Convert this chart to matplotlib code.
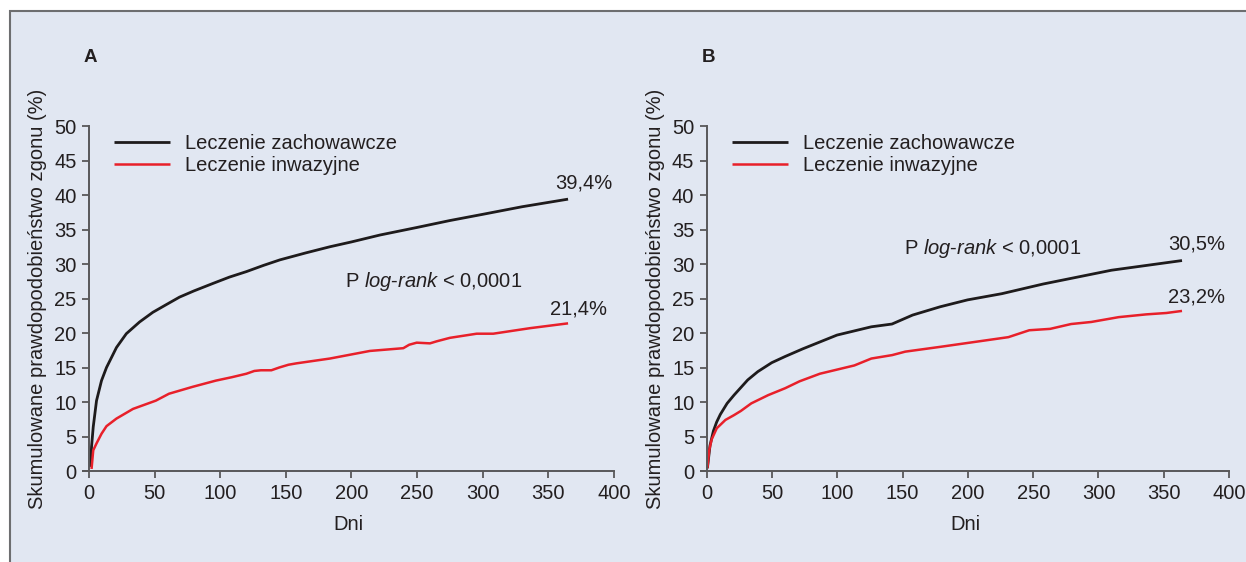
#! /usr/bin/python
# Skumulowane prawdopodobienstwo zgonu - panele A i B

import matplotlib
matplotlib.use("Agg")
import matplotlib.pyplot as plt
from matplotlib.patches import Rectangle

# Panel A
dni_a_zach = [1.3, 2, 3.3, 5.8, 9.6, 13.4, 21, 28.5, 38.6, 48.7, 58.8, 69, 80, 94.7, 107, 120, 133, 145.5,
              165, 183.6, 200, 221.7, 250, 275, 300, 330, 365]
proc_a_zach = [0.6, 3.5, 6.4, 10.2, 13.1, 15.0, 17.9, 19.9, 21.6, 23.0, 24.1, 25.2, 26.1, 27.2, 28.1, 28.9,
               29.8, 30.6, 31.6, 32.5, 33.2, 34.2, 35.3, 36.3, 37.2, 38.3, 39.4]
dni_a_inw = [2, 3.3, 5.8, 9.6, 13.4, 21, 33.6, 51, 61, 79, 96.7, 109, 120, 126, 131, 139, 145, 152, 158,
             183.6, 214, 239.5, 244, 249.7, 259.8, 265, 275, 295.4, 308, 336, 365]
proc_a_inw = [0.3, 3.0, 4.0, 5.4, 6.5, 7.6, 9.0, 10.2, 11.2, 12.2, 13.1, 13.6, 14.1, 14.5, 14.6, 14.6, 15.0,
              15.4, 15.6, 16.3, 17.4, 17.8, 18.3, 18.6, 18.5, 18.8, 19.3, 19.9, 19.9, 20.7, 21.4]

# Panel B
dni_b_zach = [0.4, 2.4, 5, 7.5, 10.3, 15.5, 20.8, 31.3, 39, 49.7, 60, 73.4, 99.7, 126, 141.8, 157.6, 178.7,
              199.7, 226, 257.6, 310, 364]
proc_b_zach = [0.4, 3.7, 5.8, 7.1, 8.2, 9.8, 11.0, 13.2, 14.4, 15.7, 16.6, 17.7, 19.7, 20.9, 21.3, 22.6, 23.8,
               24.8, 25.7, 27.1, 29.1, 30.5]
dni_b_inw = [0.4, 1.8, 3.7, 7.6, 14.2, 20.8, 26, 34, 47, 60, 71, 86.6, 113, 126, 142, 152, 179, 205, 231,
             247, 263, 279, 294.5, 315.5, 336.6, 352, 364]
proc_b_inw = [0.4, 3.0, 4.6, 6.2, 7.4, 8.1, 8.7, 9.8, 11.0, 12.0, 13.0, 14.1, 15.3, 16.3, 16.8, 17.3, 18.0,
              18.7, 19.4, 20.4, 20.6, 21.3, 21.6, 22.3, 22.7, 22.9, 23.2]

etykiety = ["Leczenie zachowawcze", "Leczenie inwazyjne"]
koncowe_a = ["39,4%", "21,4%"]
koncowe_b = ["30,5%", "23,2%"]
p_tekst = r"P $\mathit{log}$-$\mathit{rank}$ < 0,0001"

plt.rcParams['font.family'] = ['Liberation Sans', 'DejaVu Sans']
plt.rcParams['mathtext.fontset'] = 'custom'
plt.rcParams['mathtext.rm'] = 'Liberation Sans'
plt.rcParams['mathtext.it'] = 'Liberation Sans:italic'

TLO = "#e1e7f2"
TEKST = "#231f20"
OS = "#58585a"
CZARNY = "#1e1b1c"
CZERWONY = "#e8202a"
FS = 14.5

fig = plt.figure(figsize=(12.46, 5.62), dpi=100, facecolor="white")
fig.patches.append(Rectangle((10 / 1246, -0.02), 1.0, (562 - 11) / 562 + 0.02,
                             transform=fig.transFigure, facecolor=TLO,
                             edgecolor="#6d6e70", linewidth=1.5, zorder=-10))


def panel(left, szer, litera, dni1, proc1, dni2, proc2, koncowe, poz_konc, poz_p):
    ax = fig.add_axes([left, 0.1619, szer / 1246, 0.6139])
    ax.set_facecolor("none")
    ax.set_zorder(5)
    ax.plot(dni1, proc1, color=CZARNY, lw=2.0, label=etykiety[0], solid_capstyle="butt")
    ax.plot(dni2, proc2, color=CZERWONY, lw=1.8, label=etykiety[1], solid_capstyle="butt")
    ax.set_xlim(-4.5, 400)
    ax.set_ylim(0, 50)
    ax.spines['left'].set_position(('data', 0))
    ax.spines['top'].set_visible(False)
    ax.spines['right'].set_visible(False)
    for s in ['left', 'bottom']:
        ax.spines[s].set_color(OS)
        ax.spines[s].set_linewidth(1.4)
    ax.set_xticks(range(0, 401, 50))
    ax.set_yticks(range(0, 51, 5))
    ax.tick_params(colors=OS, labelcolor=TEKST, labelsize=FS, length=5, width=1.3, pad=4)
    ax.set_xlabel("Dni", fontsize=FS, color=TEKST, labelpad=9)
    ax.set_ylabel("Skumulowane prawdopodobieństwo zgonu (%)", fontsize=FS, color=TEKST, labelpad=5)
    leg = ax.legend(loc="upper left", bbox_to_anchor=(0.058, 0.976), frameon=False,
                    fontsize=FS, handlelength=2.8, handletextpad=0.75, labelspacing=0.15,
                    borderaxespad=0, borderpad=0)
    for t in leg.get_texts():
        t.set_color(TEKST)
    for (x, y), s in zip(poz_konc, koncowe):
        ax.text(x, y, s, fontsize=FS, color=TEKST, ha="center", va="center")
    ax.text(poz_p[0], poz_p[1], p_tekst, fontsize=FS, color=TEKST, ha="left", va="center")
    fig.text(left + 0.5 / 1246, (562 - 57) / 562, litera, fontsize=13.5, fontweight="bold",
             color=TEKST, ha="left", va="center")
    return ax


panel(83 / 1246, 531, "A", dni_a_zach, proc_a_zach, dni_a_inw, proc_a_inw,
      koncowe_a, [(377, 41.7), (373, 23.5)], (195, 27.5))
panel(701 / 1246, 528, "B", dni_b_zach, proc_b_zach, dni_b_inw, proc_b_inw,
      koncowe_b, [(375, 32.9), (375, 25.2)], (151, 32.3))

fig.savefig("out.png", dpi=100, facecolor="white")
